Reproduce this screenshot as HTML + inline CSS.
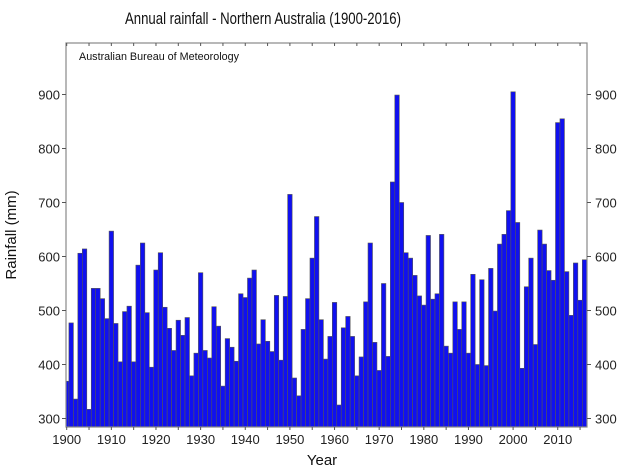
<!DOCTYPE html>
<html><head><meta charset="utf-8"><style>
body{margin:0;background:#fff;}
svg{display:block;font-family:"Liberation Sans",sans-serif;}
</style></head><body>
<svg id="chart" width="640" height="475" viewBox="0 0 640 475" xmlns="http://www.w3.org/2000/svg">
<rect width="640" height="475" fill="#fff"/>
<text x="263" y="24" text-anchor="middle" font-size="17" textLength="276" lengthAdjust="spacingAndGlyphs" fill="#111">Annual rainfall - Northern Australia (1900-2016)</text>
<text x="79" y="60" font-size="11" textLength="160" lengthAdjust="spacingAndGlyphs" fill="#111">Australian Bureau of Meteorology</text>
<text x="16" y="235" text-anchor="middle" font-size="15" transform="rotate(-90 16 235)" fill="#111">Rainfall (mm)</text>
<text x="322" y="465" text-anchor="middle" font-size="15" fill="#111">Year</text>
<g id="bars"></g>
<g id="axes"></g>
</svg>
<script>
const startYear = 1900;
const rainfall = [369,477,336,606,614,317,541,541,522,485,647,476,405,498,508,405,584,625,496,395,
575,607,506,467,426,482,454,487,379,421,570,426,412,507,471,360,448,432,406,531,
524,560,575,438,483,443,424,528,408,526,715,375,342,465,522,597,674,483,410,452,
515,325,468,489,452,379,414,516,625,441,389,550,415,738,899,700,607,597,565,527,
510,639,521,531,641,434,421,516,465,516,421,567,400,557,398,578,499,623,641,685,
905,663,393,544,597,437,649,623,574,556,848,855,572,491,588,519,594];
const yTicks = [300,400,500,600,700,800,900];
const xTicks = [1900,1910,1920,1930,1940,1950,1960,1970,1980,1990,2000,2010];

const L=66, R=587, T=43, B=427;
const x = yr => 66.7 + (yr-1900)*4.464;
const y = v => 418.5 - (v-300)*0.54;
const NS="http://www.w3.org/2000/svg";
const bars=document.getElementById('bars');
const axes=document.getElementById('axes');
function mk(tag,attrs,parent){const e=document.createElementNS(NS,tag);for(const k in attrs)e.setAttribute(k,attrs[k]);parent.appendChild(e);return e;}
const bw=4.464;
rainfall.forEach((v,i)=>{
  const yr=startYear+i;
  let x0=Math.max(L,x(yr)-bw/2), x1=Math.min(R,x(yr)+bw/2);
  const r=mk('rect',{x:x0,y:y(v),width:x1-x0,height:B-y(v),fill:'#1010f0',stroke:'#555','stroke-width':0.6},bars);
  
  
});
const frame=mk('rect',{x:L,y:T,width:R-L,height:B-T,fill:'none',stroke:'#888','stroke-width':1.2},axes);


yTicks.forEach(t=>{
  mk('line',{x1:L-4,x2:L,y1:y(t),y2:y(t),stroke:'#555'},axes);
  mk('line',{x1:R,x2:R+4,y1:y(t),y2:y(t),stroke:'#555'},axes);
  const a=mk('text',{x:L-6,y:y(t)+5,'text-anchor':'end','font-size':13,fill:'#222'},axes);
  a.textContent=t;
  
  
  const b=mk('text',{x:R+8,y:y(t)+5,'font-size':13,fill:'#222'},axes);
  b.textContent=t;
  
  
});
for(let yr=1900;yr<=2015;yr+=5){
  mk('line',{x1:x(yr),x2:x(yr),y1:T,y2:T+3,stroke:'#555'},axes);
  mk('line',{x1:x(yr),x2:x(yr),y1:B,y2:B+3,stroke:'#555'},axes);
}
xTicks.forEach(t=>{
  const a=mk('text',{x:x(t),y:444,'text-anchor':'middle','font-size':13,fill:'#222'},axes);
  a.textContent=t;
  
  
});
</script>
</body></html>
